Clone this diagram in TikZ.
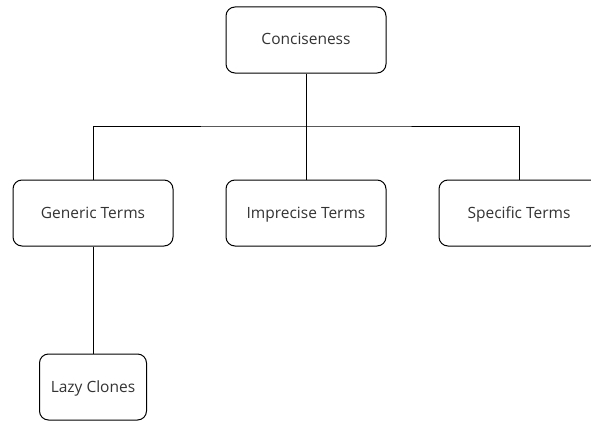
\documentclass[tikz,border=0pt]{standalone}
\usepackage{fontspec}
\setmainfont{Open Sans}
\usetikzlibrary{positioning}

\begin{document}
\begin{tikzpicture}[x=1pt,y=-1pt,
    termbox/.style={draw,rounded corners=9pt,minimum width=160pt,minimum height=66pt,
      inner sep=0pt,font=\fontsize{15.5}{18}\selectfont,text=black!80,line width=1pt,
      text height=11pt,text depth=1pt},
    link/.style={draw,line width=1pt}]
            \useasboundingbox (0,0) rectangle (591,420);
            \clip (0,0) rectangle (591,420);
            \node [termbox] (conc) at (306,40) {Conciseness};
            \node [termbox] (gen) at (93,213) {Generic Terms};
            \node [termbox] (impr) at (306,213) {Imprecise Terms};
            \node [termbox] (spec) at (519,213) {Specific Terms};
            \node [termbox,minimum width=107pt] (lazy) at (93,387) {Lazy Clones};
            \coordinate (fork) at (306,126);
            \draw [link] (conc) -- (fork);
            \draw [link] (gen.north) |- (fork) -| (spec.north);
            \draw [link] (fork) -- (impr);
            \draw [link] (gen) -- (lazy);
        \end{tikzpicture}
\end{document}
